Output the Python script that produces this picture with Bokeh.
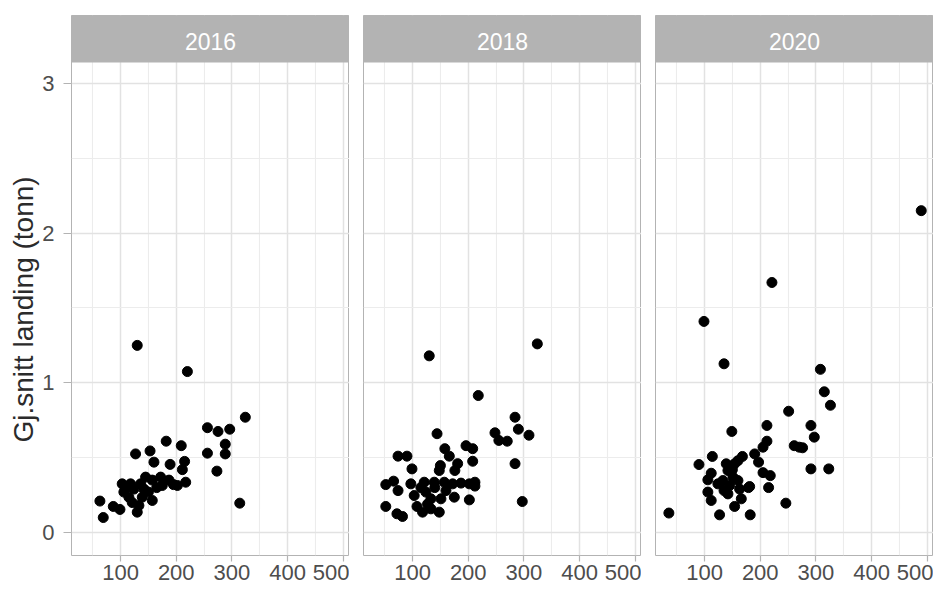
from bokeh.plotting import figure
from bokeh.layouts import row
from bokeh.models import FixedTicker, Range1d, ColumnDataSource, Title
from bokeh.core.properties import value
from bokeh.embed import file_html
from bokeh.resources import INLINE

# ---------------- data ----------------
years = ["2016", "2018", "2020"]

x_2016 = [130, 220, 324, 256, 275, 296, 182, 209, 127, 153, 160, 189, 215, 211, 256, 288, 288, 273, 314,
          63, 69, 87, 99, 103, 106, 115, 130, 133, 139, 142, 124, 145, 157, 157, 172, 175, 187, 202, 217,
          136, 118, 121, 110, 150, 165, 195]
y_2016 = [1.25, 1.075, 0.77, 0.70, 0.675, 0.69, 0.61, 0.58, 0.525, 0.545, 0.47, 0.455, 0.475, 0.42, 0.53, 0.59, 0.525, 0.41, 0.196,
          0.21, 0.10, 0.174, 0.154, 0.325, 0.27, 0.236, 0.136, 0.18, 0.236, 0.29, 0.29, 0.37, 0.35, 0.214, 0.37, 0.314, 0.35, 0.314, 0.336,
          0.325, 0.325, 0.20, 0.30, 0.27, 0.30, 0.32]

x_2018 = [130, 324, 218, 284, 290, 309, 248, 255, 270, 284, 297, 144,
          158, 166, 196, 208, 208, 181, 176, 150, 148, 74, 90, 99, 52, 66, 74, 97, 121, 139, 157, 172, 187, 212, 212,
          103, 124, 133, 151, 175, 202, 52, 72, 82, 108, 118, 133, 148, 127, 202, 140, 160, 115]
y_2018 = [1.18, 1.26, 0.915, 0.77, 0.69, 0.65, 0.666, 0.615, 0.61, 0.46, 0.207, 0.66,
          0.56, 0.51, 0.58, 0.56, 0.476, 0.46, 0.414, 0.447, 0.414, 0.51, 0.51, 0.425, 0.32, 0.343, 0.28, 0.325, 0.336, 0.336, 0.336, 0.325, 0.33, 0.336, 0.31,
          0.247, 0.27, 0.225, 0.225, 0.236, 0.218, 0.174, 0.125, 0.107, 0.174, 0.136, 0.158, 0.136, 0.19, 0.325, 0.30, 0.28, 0.30]

x_2020 = [221, 99, 135, 308, 315, 326, 251, 36, 489,
          149, 212, 212, 205, 291, 297, 261, 270, 276, 291, 323, 246,
          90, 114, 112, 106, 106, 112, 127, 154, 182, 168, 190, 197, 205, 218, 215, 181, 166, 133, 142, 154, 160,
          145, 151, 160, 142, 163, 124, 139, 179, 150, 135]
y_2020 = [1.67, 1.41, 1.127, 1.09, 0.94, 0.85, 0.81, 0.13, 2.15,
          0.675, 0.715, 0.61, 0.57, 0.715, 0.637, 0.58, 0.57, 0.566, 0.425, 0.425, 0.196,
          0.454, 0.508, 0.396, 0.352, 0.27, 0.214, 0.118, 0.174, 0.118, 0.508, 0.525, 0.47, 0.40, 0.38, 0.30, 0.307, 0.225, 0.347, 0.414, 0.459, 0.48,
          0.314, 0.37, 0.347, 0.258, 0.29, 0.325, 0.459, 0.30, 0.42, 0.28]

x_ticks = [100, 200, 300, 400, 500]
x_minor = [50, 150, 250, 350, 450]
y_ticks = [0, 1, 2, 3]
y_minor = [0.5, 1.5, 2.5]
y_label = "Gj.snitt landing (tonn)"

series = {"2016": (x_2016, y_2016), "2018": (x_2018, y_2018), "2020": (x_2020, y_2020)}

# ---------------- layout constants ----------------
X_START, X_END = 12, 511
Y_START, Y_PANEL_TOP, Y_END = -0.1536, 3.1396, 3.4536
FIG_H = 589
TOP, BOTTOM = 15, 34

FONT = "Liberation Sans"
GRID_MAJOR = "#e2e2e2"
GRID_MINOR = "#ececec"
BORDER = "#b3b3b3"
STRIP = "#b3b3b3"

widths = [349, 292, 292]
lefts = [71, 14, 14]

figs = []
for i, yr in enumerate(years):
    first = i == 0
    p = figure(width=widths[i], height=FIG_H,
               x_range=Range1d(X_START, X_END), y_range=Range1d(Y_START, Y_END),
               output_backend="svg", toolbar_location=None,
               y_axis_location="left" if first else None,
               min_border_left=lefts[i], min_border_right=0,
               min_border_top=TOP, min_border_bottom=BOTTOM)
    p.background_fill_color = "white"
    p.border_fill_color = "white"
    p.outline_line_color = BORDER
    p.outline_line_width = 1

    # grids
    p.xgrid.ticker = FixedTicker(ticks=x_ticks, minor_ticks=x_minor)
    p.ygrid.ticker = FixedTicker(ticks=y_ticks, minor_ticks=y_minor)
    for g in (p.xgrid, p.ygrid):
        g.grid_line_color = GRID_MAJOR
        g.grid_line_width = 1.5
        g.minor_grid_line_color = GRID_MINOR
        g.minor_grid_line_width = 1.1

    # x axis
    xa = p.xaxis[0]
    xa.ticker = FixedTicker(ticks=x_ticks, minor_ticks=x_minor)
    xa.axis_line_color = None
    xa.major_tick_line_color = BORDER
    xa.major_tick_line_width = 1.2
    xa.major_tick_out = 6
    xa.major_tick_in = 0
    xa.minor_tick_line_color = None
    xa.major_label_standoff = 3
    xa.major_label_text_font = FONT
    xa.major_label_text_font_size = "22px"
    xa.major_label_text_color = "#4d4d4d"

    if first:
        ya = p.yaxis[0]
        ya.ticker = FixedTicker(ticks=y_ticks, minor_ticks=y_minor)
        ya.axis_line_color = None
        ya.major_tick_line_color = BORDER
        ya.major_tick_line_width = 1.2
        ya.major_tick_out = 8
        ya.major_tick_in = 0
        ya.minor_tick_line_color = None
        ya.major_label_standoff = 9
        ya.major_label_text_font = FONT
        ya.major_label_text_font_size = "22px"
        ya.major_label_text_color = "#4d4d4d"
        # y-axis title, placed from the bottom of the panel upward
        p.add_layout(Title(text=y_label, align="left", offset=113, standoff=2,
                           text_font=FONT, text_font_size="28px", text_font_style="normal",
                           text_color="#2b2b2b"), "left")

    xs, ys = series[yr]
    src = ColumnDataSource(dict(x=xs, y=ys))
    p.scatter("x", "y", source=src, size=10, color="black")

    # facet strip
    p.quad(left=X_START - 50, right=X_END + 50, bottom=Y_PANEL_TOP, top=Y_END + 1,
           fill_color=STRIP, line_color=None)
    p.text(x=[(X_START + X_END) / 2], y=[(Y_PANEL_TOP + Y_END) / 2 - 0.015], text=[yr],
           text_align="center", text_baseline="middle", text_color="white",
           text_font=value(FONT), text_font_size="23px")
    figs.append(p)

layout = row(*figs)
open("out.html", "w").write(file_html(layout, INLINE))
